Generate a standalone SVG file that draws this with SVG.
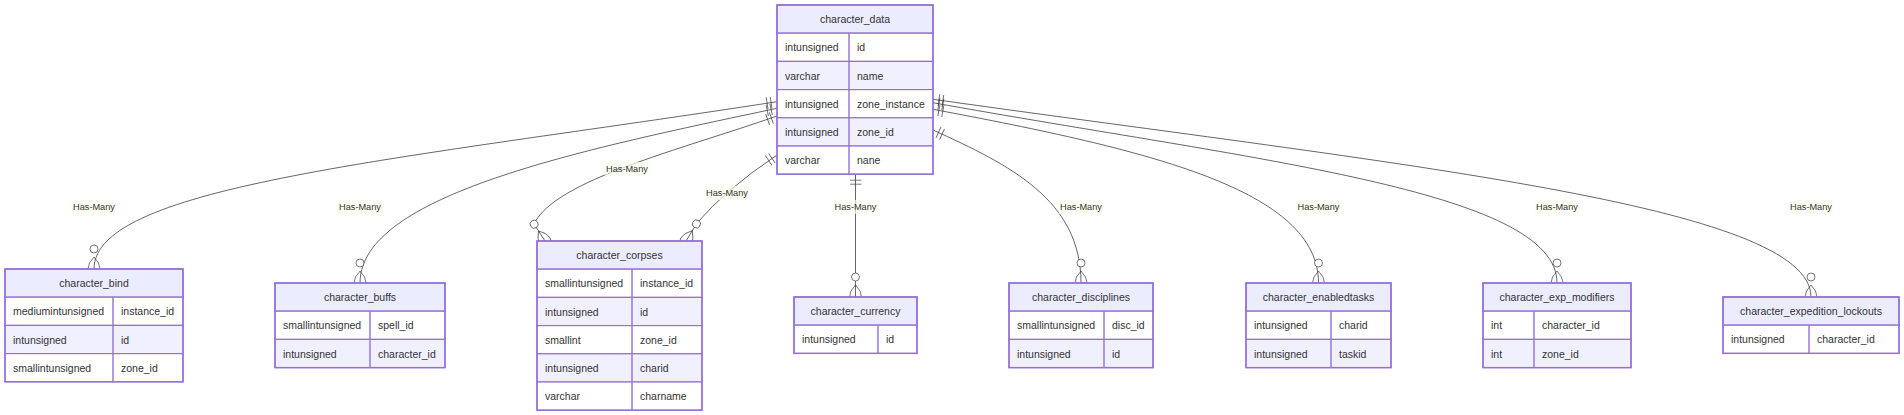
<svg xmlns="http://www.w3.org/2000/svg" width="1904" height="415" viewBox="0 0 1904 415">
<style>
.bg{fill:#ffffff}
.box{fill:none;stroke:#9370DB;stroke-width:1.4}
.hdr{fill:#ECECFF;stroke:#9370DB;stroke-width:1.4}
.ro{fill:#ffffff;stroke:#9370DB;stroke-width:1.2}
.re{fill:#F1F0FF;stroke:#9370DB;stroke-width:1.2}
.div{stroke:#9370DB;stroke-width:1.4}
.t{font-family:"Liberation Sans",Arial,sans-serif;font-size:10.5px;fill:#333333;dominant-baseline:central}
.h{text-anchor:middle}
.rel{fill:none;stroke:#333333;stroke-width:0.75;marker-start:url(#oneStart);marker-end:url(#zeroMany)}
.lb{fill:#f9ffec;fill-opacity:0.7}
.lt{font-family:"Liberation Sans",Arial,sans-serif;font-size:9.2px;fill:#333333;text-anchor:middle;dominant-baseline:central}
</style>
<defs>
<marker id="oneStart" viewBox="0 0 18 18" markerUnits="userSpaceOnUse" markerWidth="12" markerHeight="12" refX="0" refY="9" orient="auto">
<path d="M9,0 L9,18 M15,0 L15,18" fill="none" stroke="#333333" stroke-width="1"/>
</marker>
<marker id="zeroMany" viewBox="0 0 57 36" markerUnits="userSpaceOnUse" markerWidth="38" markerHeight="24" refX="39" refY="18" orient="auto">
<circle cx="9" cy="18" r="6" fill="#ffffff" stroke="#333333" stroke-width="1"/>
<path d="M21,18 Q39,0 57,18 Q39,36 21,18" fill="none" stroke="#333333" stroke-width="1"/>
</marker>
</defs>
<rect class="bg" x="0" y="0" width="1904" height="415"/>

<g id="connectors">
<path class="rel" d="M777,101.7 C400,160 94,185 94,269"/>
<path class="rel" d="M777,108.3 C580,150 360,195 360,283"/>
<path class="rel" d="M777,116 C680,150 555,180 534,224 L545,241"/>
<path class="rel" d="M777,155 Q725,190 697,223 L686,241"/>
<path class="rel" d="M855.5,174.2 L855.5,297"/>
<path class="rel" d="M933,130 C1010,165 1081,200 1081,283"/>
<path class="rel" d="M933,109.3 C1150,150 1318.5,190 1318.5,283"/>
<path class="rel" d="M933,102.7 C1250,160 1557,190 1557,283"/>
<path class="rel" d="M933,99.3 C1400,165 1811,205 1811,297"/>
<g id="labels">
<rect class="lb" x="72" y="200" width="44" height="14"/><text class="lt" x="94" y="207">Has-Many</text>
<rect class="lb" x="338" y="200" width="44" height="14"/><text class="lt" x="360" y="207">Has-Many</text>
<rect class="lb" x="605" y="162" width="44" height="14"/><text class="lt" x="627" y="169">Has-Many</text>
<rect class="lb" x="705" y="186" width="44" height="14"/><text class="lt" x="727" y="193">Has-Many</text>
<rect class="lb" x="833.5" y="200" width="44" height="14"/><text class="lt" x="855.5" y="207">Has-Many</text>
<rect class="lb" x="1059" y="200" width="44" height="14"/><text class="lt" x="1081" y="207">Has-Many</text>
<rect class="lb" x="1296.5" y="200" width="44" height="14"/><text class="lt" x="1318.5" y="207">Has-Many</text>
<rect class="lb" x="1535" y="200" width="44" height="14"/><text class="lt" x="1557" y="207">Has-Many</text>
<rect class="lb" x="1789" y="200" width="44" height="14"/><text class="lt" x="1811" y="207">Has-Many</text>
</g>
</g>

<g id="character_data">
<rect class="hdr" x="777" y="5" width="156" height="28.2"/>
<rect class="ro" x="777" y="33.2" width="156" height="28.2"/>
<rect class="re" x="777" y="61.4" width="156" height="28.2"/>
<rect class="ro" x="777" y="89.6" width="156" height="28.2"/>
<rect class="re" x="777" y="117.8" width="156" height="28.2"/>
<rect class="ro" x="777" y="146" width="156" height="28.2"/>
<line class="div" x1="849" y1="33.2" x2="849" y2="174.2"/>
<rect class="box" x="777" y="5" width="156" height="169.2"/>
<text class="t h" x="855" y="19.1">character_data</text>
<text class="t" x="785" y="47.3">intunsigned</text><text class="t" x="857" y="47.3">id</text>
<text class="t" x="785" y="75.5">varchar</text><text class="t" x="857" y="75.5">name</text>
<text class="t" x="785" y="103.7">intunsigned</text><text class="t" x="857" y="103.7">zone_instance</text>
<text class="t" x="785" y="131.9">intunsigned</text><text class="t" x="857" y="131.9">zone_id</text>
<text class="t" x="785" y="160.1">varchar</text><text class="t" x="857" y="160.1">nane</text>
</g>

<g id="character_bind">
<rect class="hdr" x="5" y="269" width="178" height="28.2"/>
<rect class="ro" x="5" y="297.2" width="178" height="28.2"/>
<rect class="re" x="5" y="325.4" width="178" height="28.2"/>
<rect class="ro" x="5" y="353.6" width="178" height="28.2"/>
<line class="div" x1="113" y1="297.2" x2="113" y2="381.8"/>
<rect class="box" x="5" y="269" width="178" height="112.8"/>
<text class="t h" x="94" y="283.1">character_bind</text>
<text class="t" x="13" y="311.3">mediumintunsigned</text><text class="t" x="121" y="311.3">instance_id</text>
<text class="t" x="13" y="339.5">intunsigned</text><text class="t" x="121" y="339.5">id</text>
<text class="t" x="13" y="367.7">smallintunsigned</text><text class="t" x="121" y="367.7">zone_id</text>
</g>

<g id="character_buffs">
<rect class="hdr" x="275" y="283" width="170" height="28.2"/>
<rect class="ro" x="275" y="311.2" width="170" height="28.2"/>
<rect class="re" x="275" y="339.4" width="170" height="28.2"/>
<line class="div" x1="370" y1="311.2" x2="370" y2="367.6"/>
<rect class="box" x="275" y="283" width="170" height="84.6"/>
<text class="t h" x="360" y="297.1">character_buffs</text>
<text class="t" x="283" y="325.3">smallintunsigned</text><text class="t" x="378" y="325.3">spell_id</text>
<text class="t" x="283" y="353.5">intunsigned</text><text class="t" x="378" y="353.5">character_id</text>
</g>

<g id="character_corpses">
<rect class="hdr" x="537" y="241" width="165" height="28.2"/>
<rect class="ro" x="537" y="269.2" width="165" height="28.2"/>
<rect class="re" x="537" y="297.4" width="165" height="28.2"/>
<rect class="ro" x="537" y="325.6" width="165" height="28.2"/>
<rect class="re" x="537" y="353.8" width="165" height="28.2"/>
<rect class="ro" x="537" y="382" width="165" height="28.2"/>
<line class="div" x1="632" y1="269.2" x2="632" y2="410.2"/>
<rect class="box" x="537" y="241" width="165" height="169.2"/>
<text class="t h" x="619.5" y="255.1">character_corpses</text>
<text class="t" x="545" y="283.3">smallintunsigned</text><text class="t" x="640" y="283.3">instance_id</text>
<text class="t" x="545" y="311.5">intunsigned</text><text class="t" x="640" y="311.5">id</text>
<text class="t" x="545" y="339.7">smallint</text><text class="t" x="640" y="339.7">zone_id</text>
<text class="t" x="545" y="367.9">intunsigned</text><text class="t" x="640" y="367.9">charid</text>
<text class="t" x="545" y="396.1">varchar</text><text class="t" x="640" y="396.1">charname</text>
</g>

<g id="character_currency">
<rect class="hdr" x="794" y="297" width="123" height="28.2"/>
<rect class="ro" x="794" y="325.2" width="123" height="28.2"/>
<line class="div" x1="878" y1="325.2" x2="878" y2="353.4"/>
<rect class="box" x="794" y="297" width="123" height="56.4"/>
<text class="t h" x="855.5" y="311.1">character_currency</text>
<text class="t" x="802" y="339.3">intunsigned</text><text class="t" x="886" y="339.3">id</text>
</g>

<g id="character_disciplines">
<rect class="hdr" x="1009" y="283" width="144" height="28.2"/>
<rect class="ro" x="1009" y="311.2" width="144" height="28.2"/>
<rect class="re" x="1009" y="339.4" width="144" height="28.2"/>
<line class="div" x1="1104" y1="311.2" x2="1104" y2="367.6"/>
<rect class="box" x="1009" y="283" width="144" height="84.6"/>
<text class="t h" x="1081" y="297.1">character_disciplines</text>
<text class="t" x="1017" y="325.3">smallintunsigned</text><text class="t" x="1112" y="325.3">disc_id</text>
<text class="t" x="1017" y="353.5">intunsigned</text><text class="t" x="1112" y="353.5">id</text>
</g>

<g id="character_enabledtasks">
<rect class="hdr" x="1246" y="283" width="145" height="28.2"/>
<rect class="ro" x="1246" y="311.2" width="145" height="28.2"/>
<rect class="re" x="1246" y="339.4" width="145" height="28.2"/>
<line class="div" x1="1331" y1="311.2" x2="1331" y2="367.6"/>
<rect class="box" x="1246" y="283" width="145" height="84.6"/>
<text class="t h" x="1318.5" y="297.1">character_enabledtasks</text>
<text class="t" x="1254" y="325.3">intunsigned</text><text class="t" x="1339" y="325.3">charid</text>
<text class="t" x="1254" y="353.5">intunsigned</text><text class="t" x="1339" y="353.5">taskid</text>
</g>

<g id="character_exp_modifiers">
<rect class="hdr" x="1483" y="283" width="148" height="28.2"/>
<rect class="ro" x="1483" y="311.2" width="148" height="28.2"/>
<rect class="re" x="1483" y="339.4" width="148" height="28.2"/>
<line class="div" x1="1534" y1="311.2" x2="1534" y2="367.6"/>
<rect class="box" x="1483" y="283" width="148" height="84.6"/>
<text class="t h" x="1557" y="297.1">character_exp_modifiers</text>
<text class="t" x="1491" y="325.3">int</text><text class="t" x="1542" y="325.3">character_id</text>
<text class="t" x="1491" y="353.5">int</text><text class="t" x="1542" y="353.5">zone_id</text>
</g>

<g id="character_expedition_lockouts">
<rect class="hdr" x="1723" y="297" width="176" height="28.2"/>
<rect class="ro" x="1723" y="325.2" width="176" height="28.2"/>
<line class="div" x1="1809" y1="325.2" x2="1809" y2="353.4"/>
<rect class="box" x="1723" y="297" width="176" height="56.4"/>
<text class="t h" x="1811" y="311.1">character_expedition_lockouts</text>
<text class="t" x="1731" y="339.3">intunsigned</text><text class="t" x="1817" y="339.3">character_id</text>
</g>
</svg>
